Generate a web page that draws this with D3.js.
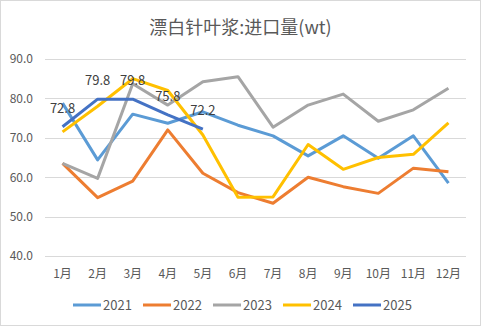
<!DOCTYPE html>
<meta charset="utf-8">
<style>
  body { margin: 0; background: #fff; }
  text { font-family: "Microsoft YaHei", "Noto Sans CJK SC", "Noto Sans", sans-serif; fill: #595959; }
</style>
<body>
<svg id="chart" width="481" height="326"></svg>
</body>
<script src="https://d3js.org/d3.v7.min.js"></script>
<script>
// monthly import volume, one array per year
var months = ["1月", "2月", "3月", "4月", "5月", "6月", "7月", "8月", "9月", "10月", "11月", "12月"];
var years = ["2021", "2022", "2023", "2024", "2025"];
var colors = ["#5B9BD5", "#ED7D31", "#A5A5A5", "#FFC000", "#4472C4"];
var yTicks = [40, 50, 60, 70, 80, 90];

var v2021 = [78.8, 64.4, 76.0, 73.7, 76.6, 73.2, 70.5, 65.4, 70.5, 64.8, 70.5, 58.5];
var v2022 = [63.5, 54.8, 59.0, 72.0, 61.0, 56.1, 53.4, 60.0, 57.6, 55.9, 62.3, 61.4];
var v2023 = [63.5, 59.7, 83.7, 78.3, 84.2, 85.5, 72.7, 78.3, 81.1, 74.2, 77.1, 82.6];
var v2024 = [71.5, 78.0, 85.0, 82.0, 70.7, 54.9, 55.0, 68.3, 62.0, 65.0, 65.8, 73.8];
var v2025 = [72.8, 79.8, 79.8, 75.8, 72.2];
var series = [v2021, v2022, v2023, v2024, v2025];

var W = 481, H = 326,
    margin = {top: 59, right: 15, bottom: 70, left: 45},
    width = W - margin.left - margin.right,
    height = H - margin.top - margin.bottom;

var svg = d3.select("#chart");

// outer frame
svg.append("rect")
  .attr("x", 0.5).attr("y", 0.5)
  .attr("width", W - 1).attr("height", H - 1)
  .attr("fill", "#fff").attr("stroke", "#D9D9D9");

svg.append("text")
  .attr("x", W / 2).attr("y", 34)
  .attr("text-anchor", "middle")
  .style("font-size", "18px")
  .text("漂白针叶浆:进口量(wt)");

var g = svg.append("g")
  .attr("transform", "translate(" + margin.left + "," + margin.top + ")");

var x = d3.scaleBand().domain(months).range([0, width]);
var y = d3.scaleLinear().domain([40, 90]).range([height, 0]);

// horizontal gridlines
g.selectAll(".grid").data(yTicks).enter().append("line")
  .attr("x1", 0).attr("x2", width)
  .attr("y1", function(d){ return Math.round(y(d)) + 0.5; })
  .attr("y2", function(d){ return Math.round(y(d)) + 0.5; })
  .attr("stroke", "#D9D9D9").attr("stroke-width", 1);

var yAxis = g.append("g")
  .call(d3.axisLeft(y).tickValues(yTicks).tickFormat(d3.format(".1f")).tickSize(0).tickPadding(12));
yAxis.select(".domain").remove();
yAxis.selectAll("text").style("font-size", "12px").attr("fill", "#595959");

var xAxis = g.append("g")
  .attr("transform", "translate(0," + height + ")")
  .call(d3.axisBottom(x).tickSize(0).tickPadding(13));
xAxis.select(".domain").remove();
xAxis.selectAll("text").style("font-size", "12px").attr("fill", "#595959");

var line = d3.line()
  .x(function(d, i){ return x(months[i]) + x.bandwidth() / 2; })
  .y(function(d){ return y(d); });

series.forEach(function(s, k){
  g.append("path")
    .datum(s)
    .attr("d", line)
    .attr("fill", "none")
    .attr("stroke", colors[k])
    .attr("stroke-width", 3)
    .attr("stroke-linejoin", "round");
});

// value labels for the latest year
g.selectAll(".lbl").data(v2025).enter().append("text")
  .attr("x", function(d, i){ return x(months[i]) + x.bandwidth() / 2; })
  .attr("y", function(d){ return y(d) - 14; })
  .attr("text-anchor", "middle")
  .style("font-size", "13px")
  .style("fill", "#404040")
  .text(function(d){ return d.toFixed(1); });

// legend
var legend = svg.append("g").attr("transform", "translate(73,305)");
var item = legend.selectAll("g").data(years).enter().append("g")
  .attr("transform", function(d, i){ return "translate(" + (i * 70) + ",0)"; });
item.append("line")
  .attr("x1", 0).attr("x2", 28).attr("y1", 0).attr("y2", 0)
  .attr("stroke", function(d, i){ return colors[i]; })
  .attr("stroke-width", 3);
item.append("text")
  .attr("x", 30).attr("y", 0).attr("dy", "0.35em")
  .style("font-size", "13px")
  .text(function(d){ return d; });
</script>
